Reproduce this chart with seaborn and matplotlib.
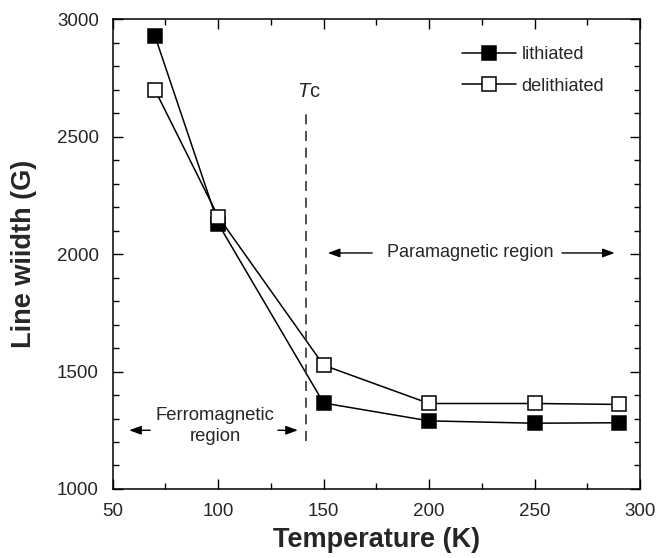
import matplotlib
matplotlib.use("Agg")
import matplotlib.pyplot as plt
from matplotlib.ticker import MultipleLocator
import seaborn as sns
import pandas as pd

# Line width of the ESR signal versus temperature
temperature_lith = [70, 100, 150, 200, 250, 290]
linewidth_lith = [2930, 2130, 1366, 1290, 1280, 1282]
temperature_delith = [70, 100, 150, 200, 250, 290]
linewidth_delith = [2700, 2160, 1527, 1364, 1364, 1360]
series_names = ["lithiated", "delithiated"]
curie_temperature = 141.5

sns.set_theme(style="ticks")
plt.rcParams["font.family"] = ["Liberation Sans", "DejaVu Sans"]
plt.rcParams["mathtext.fontset"] = "custom"
plt.rcParams["mathtext.it"] = "Liberation Sans:italic"
plt.rcParams["mathtext.rm"] = "Liberation Sans"

df_lith = pd.DataFrame({"T": temperature_lith, "W": linewidth_lith})
df_delith = pd.DataFrame({"T": temperature_delith, "W": linewidth_delith})

fig = plt.figure(figsize=(6.56, 5.58), dpi=100)
ax = fig.add_axes([0.1718, 0.1237, 0.9756 - 0.1718, 0.9654 - 0.1237])

sns.lineplot(data=df_lith, x="T", y="W", ax=ax, color="black", lw=1.1,
             marker="s", markersize=9.5, markerfacecolor="black",
             markeredgecolor="black", markeredgewidth=1.1,
             label=series_names[0])
sns.lineplot(data=df_delith, x="T", y="W", ax=ax, color="black", lw=1.1,
             marker="s", markersize=9.5, markerfacecolor="white",
             markeredgecolor="black", markeredgewidth=1.1,
             label=series_names[1])

ax.set_xlim(50, 300)
ax.set_ylim(1000, 3000)
ax.xaxis.set_major_locator(MultipleLocator(50))
ax.xaxis.set_minor_locator(MultipleLocator(25))
ax.yaxis.set_major_locator(MultipleLocator(500))
ax.yaxis.set_minor_locator(MultipleLocator(100))
ax.tick_params(which="both", direction="in", top=True, right=True,
               width=1.0, color="black")
ax.tick_params(which="major", length=7, labelsize=13.5, pad=10)
ax.tick_params(which="minor", length=4)
for s in ax.spines.values():
    s.set_linewidth(1.1)
    s.set_color("black")

ax.set_xlabel("Temperature (K)", fontsize=19.5, fontweight="bold", labelpad=5)
ax.set_ylabel("Line wiidth (G)", fontsize=19.5, fontweight="bold", labelpad=14)

# Curie temperature marker
ax.plot([curie_temperature, curie_temperature], [1205, 2600], color="#333333",
        lw=1.2, ls=(0, (6, 4)))
ax.text(curie_temperature + 1.5, 2691, r"$T$c", fontsize=14.5,
        ha="center", va="center")

# Region annotations
arrow_kw = dict(arrowstyle="-|>,head_length=0.6,head_width=0.22",
                color="black", lw=1.0, shrinkA=0, shrinkB=0)
ax.annotate("", xy=(152, 2005), xytext=(173, 2005), arrowprops=arrow_kw)
ax.annotate("", xy=(288, 2005), xytext=(263, 2005), arrowprops=arrow_kw)
ax.text(219.5, 2005, "Paramagnetic region", fontsize=13,
        ha="center", va="center")

ax.annotate("", xy=(57.8, 1250), xytext=(67.8, 1250), arrowprops=arrow_kw)
ax.annotate("", xy=(137.8, 1250), xytext=(128.3, 1250), arrowprops=arrow_kw)
ax.text(98.6, 1268, "Ferromagnetic\nregion", fontsize=13.3,
        ha="center", va="center", linespacing=1.3)

leg = ax.legend(loc="upper left", bbox_to_anchor=(0.704, 0.917),
                bbox_transform=fig.transFigure, frameon=False, fontsize=13,
                handlelength=3.0, handletextpad=0.3, labelspacing=0.8,
                borderpad=0, borderaxespad=0)

fig.savefig("out.png", dpi=100)
